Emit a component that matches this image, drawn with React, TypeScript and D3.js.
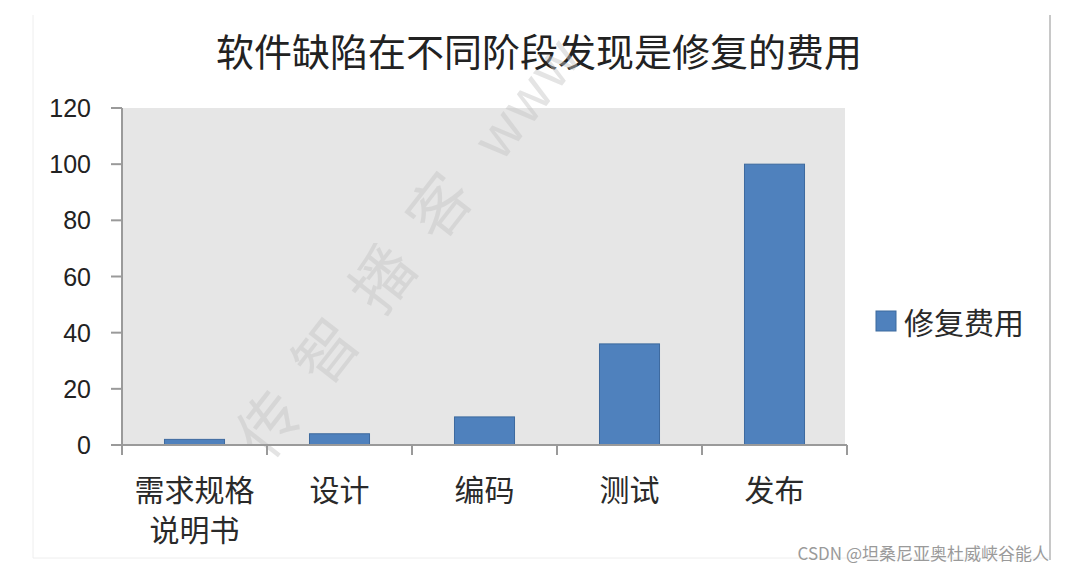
import React from "react";
import * as d3 from "d3";

const title = "软件缺陷在不同阶段发现是修复的费用";
const categories = ["需求规格\n说明书", "设计", "编码", "测试", "发布"];
const seriesName = "修复费用";
const values = [2, 4, 10, 36, 100];
const yTicks = [0, 20, 40, 60, 80, 100, 120];
const watermarkCn = "传智播客";
const watermarkEn = "www";
const creditText = "CSDN @坦桑尼亚奥杜威峡谷能人";

const W = 1067;
const H = 570;
const plot = { left: 122, right: 847, top: 108, bottom: 445 };
const cjk = "'Noto Sans CJK SC', 'Noto Sans', sans-serif";
const num = "'Liberation Sans', Arial, sans-serif";

export default function App() {
  const x = d3
    .scaleBand<string>()
    .domain(categories)
    .range([plot.left, plot.right])
    .paddingInner(0.586)
    .paddingOuter(0.293);
  const y = d3.scaleLinear().domain([0, 120]).range([plot.bottom, plot.top]);
  const step = x.step();

  return (
    <svg
      width={W}
      height={H}
      style={{ position: "absolute", left: 0, top: 0, background: "#fff" }}
    >
      <rect x={0} y={0} width={W} height={H} fill="#fff" />
      {/* frame */}
      <line x1={33} y1={15} x2={33} y2={558} stroke="#eeeeee" strokeWidth={1} />
      <line x1={33} y1={558} x2={1050} y2={558} stroke="#eeeeee" strokeWidth={1} />
      <line x1={1050} y1={15} x2={1050} y2={560} stroke="#c8c8c8" strokeWidth={2} />

      {/* title */}
      <text
        x={539}
        y={49}
        textAnchor="middle"
        dominantBaseline="central"
        fontFamily={cjk}
        fontSize={38}
        fill="#222"
      >
        {title}
      </text>

      {/* plot area */}
      <rect
        x={plot.left}
        y={plot.top}
        width={plot.right - plot.left - 2}
        height={plot.bottom - plot.top}
        fill="#e6e6e6"
      />

      {/* watermark */}
      <text
        transform="translate(268,462) rotate(-52)"
        fontFamily={cjk}
        fontSize={62}
        fill="#c4c4c4"
        opacity={0.45}
      >
        <tspan letterSpacing={30}>{watermarkCn}</tspan>
        <tspan dx={10} fontSize={56}>{watermarkEn}</tspan>
      </text>

      {/* bars */}
      {categories.map((c, i) => (
        <rect
          key={c}
          x={x(c)}
          y={y(values[i])}
          width={x.bandwidth()}
          height={y(0) - y(values[i])}
          fill="#4f81bd"
          stroke="#3d6a9e"
          strokeWidth={1}
        />
      ))}

      {/* y axis */}
      <line x1={plot.left} y1={plot.top} x2={plot.left} y2={plot.bottom} stroke="#9a9a9a" strokeWidth={2} />
      {yTicks.map((t) => (
        <g key={t}>
          <line x1={111} y1={y(t)} x2={plot.left} y2={y(t)} stroke="#9a9a9a" strokeWidth={2} />
          <text
            x={91}
            y={y(t)}
            textAnchor="end"
            dominantBaseline="central"
            fontFamily={num}
            fontSize={25}
            fill="#222"
          >
            {t}
          </text>
        </g>
      ))}

      {/* x axis */}
      <line x1={111} y1={plot.bottom} x2={plot.right} y2={plot.bottom} stroke="#9a9a9a" strokeWidth={2} />
      {d3.range(categories.length + 1).map((i) => (
        <line
          key={i}
          x1={plot.left + i * step}
          y1={plot.bottom}
          x2={plot.left + i * step}
          y2={455}
          stroke="#9a9a9a"
          strokeWidth={2}
        />
      ))}
      {categories.map((c) => {
        const lines = c.split("\n");
        const cx = (x(c) ?? 0) + x.bandwidth() / 2;
        return (
          <text
            key={c}
            x={cx}
            textAnchor="middle"
            fontFamily={cjk}
            fontSize={30}
            fill="#2a2a2a"
          >
            {lines.map((l, j) => (
              <tspan key={j} x={cx} y={488 + j * 40} dominantBaseline="central">
                {l}
              </tspan>
            ))}
          </text>
        );
      })}

      {/* legend */}
      <rect x={876} y={311} width={20} height={20} fill="#4f81bd" stroke="#3d6a9e" strokeWidth={1} />
      <text
        x={904}
        y={321}
        dominantBaseline="central"
        fontFamily={cjk}
        fontSize={30}
        fill="#2a2a2a"
      >
        {seriesName}
      </text>

      {/* credit */}
      <text
        x={1049}
        y={552}
        textAnchor="end"
        dominantBaseline="central"
        fontFamily={cjk}
        fontSize={17}
        fill="#9a9a9a"
      >
        {creditText}
      </text>
    </svg>
  );
}
